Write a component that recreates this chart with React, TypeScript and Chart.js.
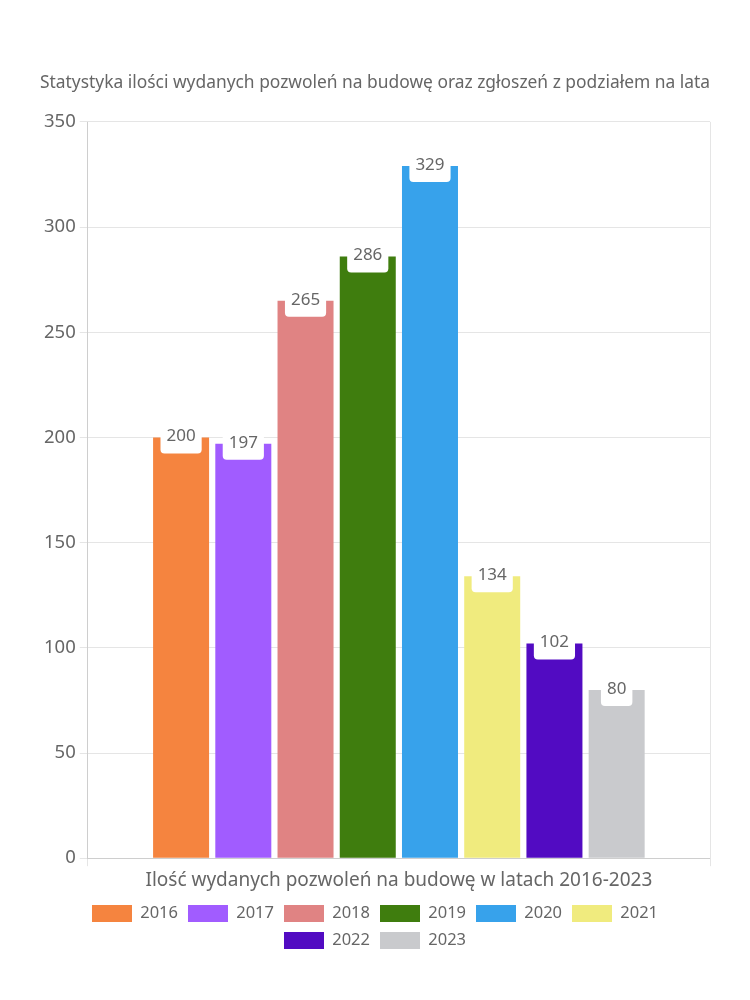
import React, { useEffect, useRef } from "react";
import { Chart, registerables } from "chart.js";

Chart.register(...registerables);

const CATEGORIES = ["Ilość wydanych pozwoleń na budowę w latach 2016-2023"];
const YEARS = ["2016", "2017", "2018", "2019", "2020", "2021", "2022", "2023"];
const VALUES = [200, 197, 265, 286, 329, 134, 102, 80];
const COLORS = ["#F5843F", "#A15CFF", "#E08383", "#3F7D0E", "#37A2EB", "#F0EB7E", "#520BC2", "#C9CACD"];
const TITLE = "Statystyka ilości wydanych pozwoleń na budowę oraz zgłoszeń z podziałem na lata";
const Y_MAX = 350;
const Y_STEP = 50;

const FONT = "'Noto Sans', sans-serif";
const TEXT = "#666666";

const labelPlugin = {
  id: "valueLabels",
  afterDatasetsDraw(chart: any) {
    const ctx = chart.ctx;
    ctx.save();
    ctx.font = `17px ${FONT}`;
    ctx.textAlign = "center";
    ctx.textBaseline = "middle";
    chart.data.datasets.forEach((ds: any, i: number) => {
      const meta = chart.getDatasetMeta(i);
      if (meta.hidden) return;
      meta.data.forEach((el: any, j: number) => {
        const text = String(ds.data[j]);
        const w = ctx.measureText(text).width + 12;
        const h = 32;
        const x = el.x;
        const y = el.y;
        ctx.fillStyle = "#ffffff";
        ctx.beginPath();
        (ctx as any).roundRect(x - w / 2, y - h / 2, w, h, 4);
        ctx.fill();
        ctx.fillStyle = TEXT;
        ctx.fillText(text, x, y - 1);
      });
    });
    ctx.restore();
  },
};

export default function App() {
  const ref = useRef<HTMLCanvasElement | null>(null);
  useEffect(() => {
    if (!ref.current) return;
    const chart = new Chart(ref.current, {
      type: "bar",
      data: {
        labels: CATEGORIES,
        datasets: YEARS.map((y, i) => ({
          label: y,
          data: [VALUES[i]],
          backgroundColor: COLORS[i],
          borderWidth: 0,
        })),
      },
      options: {
        responsive: false,
        animation: false,
        layout: { padding: { top: 55, bottom: 33, left: 32, right: 32 } },
        scales: {
          x: {
            grid: { color: "rgba(0,0,0,0.1)" },
            ticks: { color: TEXT, font: { family: FONT, size: 19 } },
          },
          y: {
            min: 0,
            max: Y_MAX,
            ticks: { stepSize: Y_STEP, color: TEXT, font: { family: FONT, size: 18.5 }, padding: 4 },
            grid: { color: "rgba(0,0,0,0.1)" },
          },
        },
        plugins: {
          title: {
            display: true,
            text: TITLE,
            color: TEXT,
            font: { family: FONT, size: 17.4, weight: "normal" },
            padding: { top: 10, bottom: 28 },
          },
          legend: {
            position: "bottom",
            labels: { color: TEXT, boxWidth: 40, boxHeight: 17, font: { family: FONT, size: 16.5 } },
          },
          tooltip: { enabled: false },
        },
      },
      plugins: [labelPlugin],
    });
    return () => chart.destroy();
  }, []);
  return <canvas ref={ref} width={734} height={984} style={{ display: "block" }} />;
}
